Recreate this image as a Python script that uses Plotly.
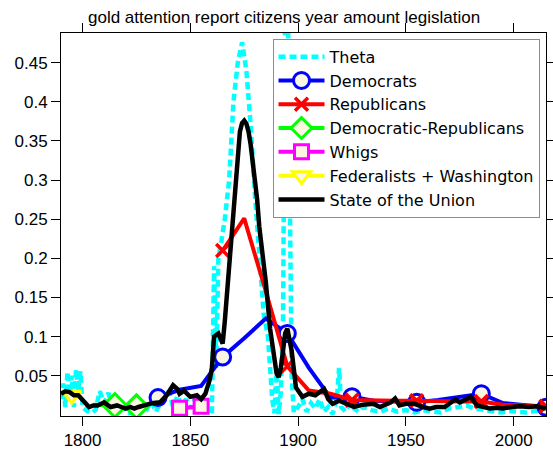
import plotly.graph_objects as go

# ---------------- data ----------------
theta_years = [1790, 1791, 1792, 1793, 1794, 1795, 1796, 1797, 1798, 1799, 1800, 1802, 1804, 1806,
               1808, 1810, 1812, 1814, 1816, 1818, 1820, 1822, 1824, 1826, 1828, 1830, 1832, 1834,
               1836, 1838, 1840, 1842, 1844, 1846, 1848, 1850, 1852, 1854, 1856, 1858, 1860, 1861,
               1862, 1863, 1864, 1866, 1868, 1870, 1872, 1874, 1876, 1878, 1880, 1882, 1884, 1886,
               1887, 1888, 1889, 1890, 1891, 1892, 1893, 1894, 1895, 1896, 1897, 1898, 1900, 1902,
               1904, 1906, 1908, 1910, 1912, 1914, 1916, 1918, 1919, 1920, 1922, 1924, 1926, 1928,
               1930, 1934, 1938, 1942, 1946, 1950, 1954, 1958, 1962, 1966, 1970, 1974, 1978, 1982,
               1986, 1990, 1994, 1998, 2002, 2006, 2010, 2015]
theta_vals = [0.020, 0.040, 0.010, 0.055, 0.020, 0.050, 0.010, 0.058, 0.030, 0.056, 0.010, 0.005,
              0.002, 0.006, 0.030, 0.015, 0.028, 0.008, 0.020, 0.004, 0.010, 0.001, 0.012, 0.004,
              0.014, 0.008, 0.018, 0.004, 0.014, 0.020, 0.030, 0.010, 0.024, 0.012, 0.020, 0.008,
              0.020, 0.012, 0.018, 0.004, 0.002, 0.190, 0.060, 0.200, 0.215, 0.250, 0.300, 0.400,
              0.450, 0.476, 0.440, 0.370, 0.280, 0.200, 0.130, 0.100, 0.060, 0.020, 0.002, 0.060,
              0.001, 0.030, 0.120, 0.550, 0.600, 0.300, 0.050, 0.003, 0.010, 0.020, 0.004, 0.015,
              0.008, 0.020, 0.004, 0.010, 0.001, 0.020, 0.060, 0.010, 0.004, 0.015, 0.008, 0.004,
              0.010, 0.006, 0.004, 0.008, 0.004, 0.006, 0.003, 0.006, 0.004, 0.003, 0.008, 0.010,
              0.012, 0.008, 0.006, 0.004, 0.003, 0.005, 0.004, 0.003, 0.005, 0.004]

sotu_years = [1790, 1792, 1794, 1796, 1798, 1800, 1801, 1803, 1805, 1807, 1810, 1813, 1816, 1818,
              1820, 1822, 1824, 1826, 1828, 1831, 1833, 1836, 1839, 1842, 1844, 1845, 1847, 1850,
              1853, 1855, 1857, 1859, 1860, 1861, 1863, 1865, 1866, 1868, 1870, 1871, 1872, 1873,
              1874, 1875, 1876, 1877, 1878, 1879, 1881, 1882, 1884, 1885, 1887, 1888, 1890, 1891,
              1892, 1894, 1895, 1897, 1899, 1902, 1905, 1908, 1912, 1914, 1916, 1919, 1922, 1926,
              1930, 1935, 1938, 1943, 1945, 1947, 1950, 1954, 1958, 1961, 1964, 1968, 1973, 1975,
              1978, 1980, 1983, 1986, 1989, 1992, 1995, 1999, 2003, 2007, 2011, 2015]
sotu_vals = [0.027, 0.030, 0.029, 0.025, 0.025, 0.020, 0.016, 0.010, 0.012, 0.012, 0.016, 0.010,
             0.012, 0.010, 0.008, 0.010, 0.008, 0.010, 0.012, 0.014, 0.015, 0.016, 0.025, 0.038,
             0.033, 0.027, 0.031, 0.023, 0.025, 0.020, 0.027, 0.045, 0.060, 0.100, 0.104, 0.091,
             0.120, 0.190, 0.255, 0.305, 0.340, 0.362, 0.373, 0.376, 0.372, 0.362, 0.345, 0.322,
             0.275, 0.240, 0.200, 0.170, 0.110, 0.090, 0.053, 0.048, 0.060, 0.104, 0.110, 0.082,
             0.035, 0.023, 0.027, 0.025, 0.033, 0.020, 0.014, 0.018, 0.015, 0.010, 0.013, 0.014,
             0.010, 0.016, 0.021, 0.012, 0.014, 0.014, 0.010, 0.008, 0.010, 0.010, 0.020, 0.016,
             0.020, 0.023, 0.012, 0.010, 0.008, 0.009, 0.008, 0.010, 0.011, 0.010, 0.011, 0.008]

dem_years = [1835, 1845, 1855, 1865, 1875, 1885, 1895, 1905, 1915, 1925, 1935, 1945, 1955, 1965,
             1975, 1985, 1995, 2005, 2015]
dem_vals = [0.022, 0.032, 0.037, 0.074, 0.098, 0.123, 0.104, 0.060, 0.022, 0.023, 0.018, 0.017,
            0.016, 0.019, 0.023, 0.027, 0.015, 0.012, 0.0097]
dem_marker_years = [1835, 1865, 1895, 1925, 1955, 1985, 2015]

rep_years = [1865, 1875, 1885, 1895, 1905, 1915, 1925, 1935, 1945, 1955, 1965, 1975, 1985, 1995,
             2005, 2015]
rep_vals = [0.210, 0.251, 0.158, 0.062, 0.031, 0.027, 0.019, 0.018, 0.018, 0.018, 0.017, 0.017,
            0.017, 0.013, 0.012, 0.011]
rep_marker_years = [1865, 1895, 1925, 1955, 1985, 2015]

dr_years = [1805, 1815, 1825]
dr_vals = [0.013, 0.012, 0.0105]
dr_marker_years = [1815, 1825]

whig_years = [1845, 1855]
whig_vals = [0.0085, 0.011]
whig_marker_years = [1845, 1855]

fed_years = [1795]
fed_vals = [0.025]
fed_marker_years = [1795]

title_text = "gold attention report citizens year amount legislation"
x_ticks = [1800, 1850, 1900, 1950, 2000]
y_ticks = [0.05, 0.1, 0.15, 0.2, 0.25, 0.3, 0.35, 0.4, 0.45]
y_tick_labels = ["0.05", "0.1", "0.15", "0.2", "0.25", "0.3", "0.35", "0.4", "0.45"]

# ---------------- figure ----------------
FONT = "Liberation Sans, Arial, sans-serif"
LEG_FONT = "DejaVu Sans, Liberation Sans, sans-serif"
FILL = "#FBF6E2"

fig = go.Figure()

fig.add_trace(go.Scatter(x=theta_years, y=theta_vals, mode="lines", name="Theta",
                         line=dict(color="#00FFFF", width=4.5, dash="7px,4px")))


def party(name, years, vals, marker_years, color, symbol, msize, lw=4):
    mv = [v for y, v in zip(years, vals) if y in marker_years]
    my = [y for y in years if y in marker_years]
    mk = dict(symbol=symbol, size=msize, color=FILL, line=dict(color=color, width=3))
    if symbol == "x-thin":
        mk = dict(symbol=symbol, size=msize, color=color, line=dict(color=color, width=3.5))
    fig.add_trace(go.Scatter(x=years, y=vals, mode="lines", showlegend=False,
                             legendgroup=name, line=dict(color=color, width=lw),
                             hoverinfo="skip"))
    fig.add_trace(go.Scatter(x=my, y=mv, mode="markers", showlegend=False,
                             legendgroup=name, marker=mk, name=name))
    fig.add_trace(go.Scatter(x=[None], y=[None], mode="lines+markers", name=name,
                             legendgroup=name, line=dict(color=color, width=lw),
                             marker=mk))


party("Democrats", dem_years, dem_vals, dem_marker_years, "#0000FF", "circle", 16)
party("Republicans", rep_years, rep_vals, rep_marker_years, "#FF0000", "x-thin", 13)
party("Democratic-Republicans", dr_years, dr_vals, dr_marker_years, "#00FF00", "diamond", 18)
party("Whigs", whig_years, whig_vals, whig_marker_years, "#FF00FF", "square", 14)
party("Federalists + Washington", fed_years, fed_vals, fed_marker_years, "#FFFF00",
      "triangle-down", 16)

fig.add_trace(go.Scatter(x=sotu_years, y=sotu_vals, mode="lines", name="State of the Union",
                         line=dict(color="black", width=4.5)))

axis_common = dict(showgrid=False, zeroline=False, showline=True, linecolor="black",
                   linewidth=1, mirror="ticks", ticks="outside", ticklen=9, tickcolor="black",
                   tickwidth=1, automargin=False,
                   tickfont=dict(family=FONT, size=17, color="black"))

fig.update_layout(
    width=553, height=453, autosize=False,
    margin=dict(l=61, r=7, t=33, b=37, autoexpand=False),
    paper_bgcolor="white", plot_bgcolor="white",
    font=dict(family=FONT, size=17, color="black"),
    xaxis=dict(range=[1790, 2015], tickvals=x_ticks, **axis_common),
    yaxis=dict(range=[-0.0015, 0.488], tickvals=y_ticks, ticktext=y_tick_labels,
               **axis_common),
    legend=dict(x=0.9866, xanchor="right", y=0.985, yanchor="top",
                bgcolor="white", bordercolor="#8C8C8C", borderwidth=1,
                font=dict(family=LEG_FONT, size=16, color="black"),
                itemwidth=46, tracegroupgap=0),
    showlegend=True,
    annotations=[dict(text=title_text, xref="paper", yref="paper", x=0.46, y=1,
                      xanchor="center", yanchor="bottom", yshift=4, showarrow=False,
                      font=dict(family=FONT, size=17, color="black"))],
)

fig.write_html("out.html", config={"displayModeBar": False},
               post_script="document.body.style.margin='0';document.body.style.padding='0';")
